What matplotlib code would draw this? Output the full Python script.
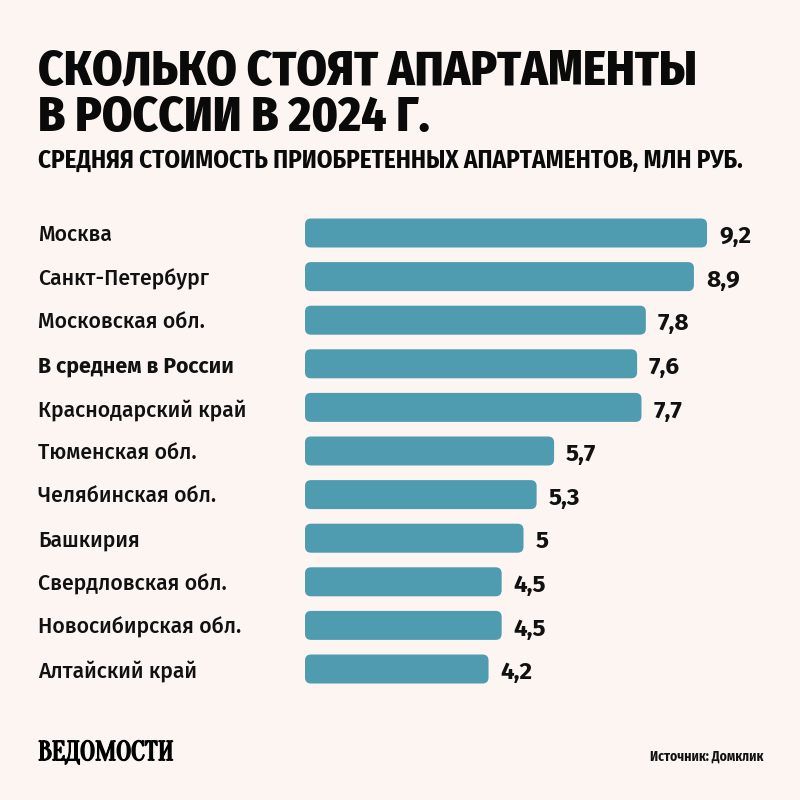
import matplotlib.pyplot as plt
import matplotlib.patheffects as pe
from matplotlib.patches import FancyBboxPatch
from matplotlib.transforms import blended_transform_factory

regions = ["Москва", "Санкт-Петербург", "Московская обл.", "В среднем в России",
           "Краснодарский край", "Тюменская обл.", "Челябинская обл.", "Башкирия",
           "Свердловская обл.", "Новосибирская обл.", "Алтайский край"]
prices = [9.2, 8.9, 7.8, 7.6, 7.7, 5.7, 5.3, 5.0, 4.5, 4.5, 4.2]
price_labels = ["9,2", "8,9", "7,8", "7,6", "7,7", "5,7", "5,3", "5", "4,5", "4,5", "4,2"]
highlight = "В среднем в России"

bg = "#fcf5f2"
bar_color = "#4f9bb0"
cond = ["Fira Sans Condensed", "DejaVu Sans"]
body = ["Fira Sans", "DejaVu Sans"]

W = H = 800
fig = plt.figure(figsize=(8, 8), dpi=100, facecolor=bg)

# axes placed in pixel terms: bars start at x=305, rows at 233 + 43.6*i
px_per_unit = 43.7
row = 43.6
left, right = 305, 800
top = 233 - row / 2
bottom = 233 + row * (len(regions) - 0.5)
ax = fig.add_axes([left / W, 1 - bottom / H, (right - left) / W, (bottom - top) / H])
ax.set_facecolor(bg)
ax.set_xlim(0, (right - left) / px_per_unit)
ax.set_ylim(len(regions) - 0.5, -0.5)
ax.axis("off")

ypos = list(range(len(regions)))
bars = ax.barh(ypos, prices, height=29 / row, color=bar_color)
for b in bars:
    b.set_visible(False)
    r = 6 / px_per_unit
    p = FancyBboxPatch((b.get_x(), b.get_y()), b.get_width(), b.get_height(),
                       boxstyle=f"round,pad=0,rounding_size={r}",
                       mutation_aspect=px_per_unit / row,
                       facecolor=bar_color, edgecolor="none")
    ax.add_patch(p)

trans = blended_transform_factory(fig.transFigure, ax.transData)
for y, name in zip(ypos, regions):
    ax.text(38 / W, y + 0.05, name, transform=trans, ha="left", va="center",
            fontsize=15.3, family=body, color="#111111",
            fontweight="bold" if name == highlight else 500)

for y, v, lab in zip(ypos, prices, price_labels):
    ax.text(v + 12 / px_per_unit, y + 0.08, lab, ha="left", va="center",
            fontsize=17.5, family=body, fontweight="bold", color="#111111")

fig.text(38 / W, 1 - 66 / H, "СКОЛЬКО СТОЯТ АПАРТАМЕНТЫ", ha="left", va="center_baseline",
         fontsize=35, family=cond, fontweight=800, color="#0a0a0a")
fig.text(38 / W, 1 - 113 / H, "В РОССИИ В 2024 Г.", ha="left", va="center_baseline",
         fontsize=35, family=cond, fontweight=800, color="#0a0a0a")
fig.text(38 / W, 1 - 158 / H, "СРЕДНЯЯ СТОИМОСТЬ ПРИОБРЕТЕННЫХ АПАРТАМЕНТОВ, МЛН РУБ.",
         ha="left", va="center_baseline", fontsize=18, family=cond, fontweight="bold",
         color="#0a0a0a")

fig.text(38 / W, 1 - 754 / H, "ВЕДОМОСТИ", ha="left", va="center", fontsize=19.5,
         family=["Oranienbaum", "Liberation Serif", "DejaVu Serif"], color="#000000",
         path_effects=[pe.withStroke(linewidth=1.2, foreground="#000000")])
fig.text(763 / W, 1 - 757 / H, "Источник: Домклик", ha="right", va="center",
         fontsize=9.8, family=cond, fontweight="bold", color="#111111")

fig.savefig("out.png", dpi=100, facecolor=bg)
